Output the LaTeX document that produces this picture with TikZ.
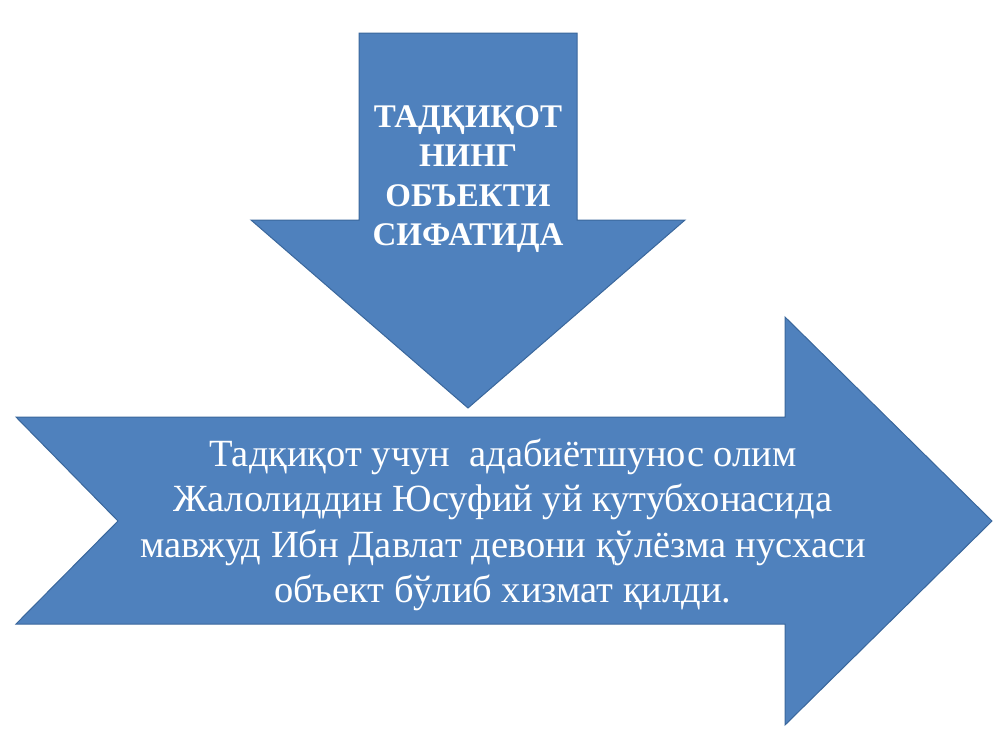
\documentclass[tikz,border=0pt]{standalone}
\usepackage{fontspec}
\newfontfamily\slideserif{Liberation Serif}

\definecolor{slideblue}{HTML}{4F81BD}
\definecolor{slideedge}{HTML}{3A679C}

\tikzset{
  arrowshape/.style={fill=slideblue, draw=slideedge, line width=1pt, line join=miter},
  headtext/.style={text=white, align=center, font=\slideserif\bfseries\fontsize{33}{39.5}\selectfont},
  bodytext/.style={text=white, align=center, font=\slideserif\fontsize{38.5}{45.5}\selectfont}
}

\begin{document}
\begin{tikzpicture}[x=1pt,y=-1pt]
\useasboundingbox (0,0) rectangle (1000,750);

% Down arrow: shaft, then the head down to the tip
\draw [arrowshape] (359,33) -- (577,33) -- (577,220) -- (685,220)
  -- (468,408) -- (251,220) -- (359,220) -- cycle;

% Notched arrow to the right
\draw [arrowshape] (16,417) -- (785,417) -- (785,317) -- (992,521)
  -- (785,725) -- (785,624) -- (16,624) -- (118,521) -- cycle;

% Texts
\node [headtext] (object) at (468,179) {ТАДҚИҚОТ\\НИНГ\\ОБЪЕКТИ\\СИФАТИДА};
\node [bodytext] (source) at (503,525)
  {Тадқиқот учун \ адабиётшунос олим\\Жалолиддин Юсуфий уй кутубхонасида\\мавжуд Ибн Давлат девони қўлёзма нусхаси\\объект бўлиб хизмат қилди.};
\end{tikzpicture}
\end{document}
